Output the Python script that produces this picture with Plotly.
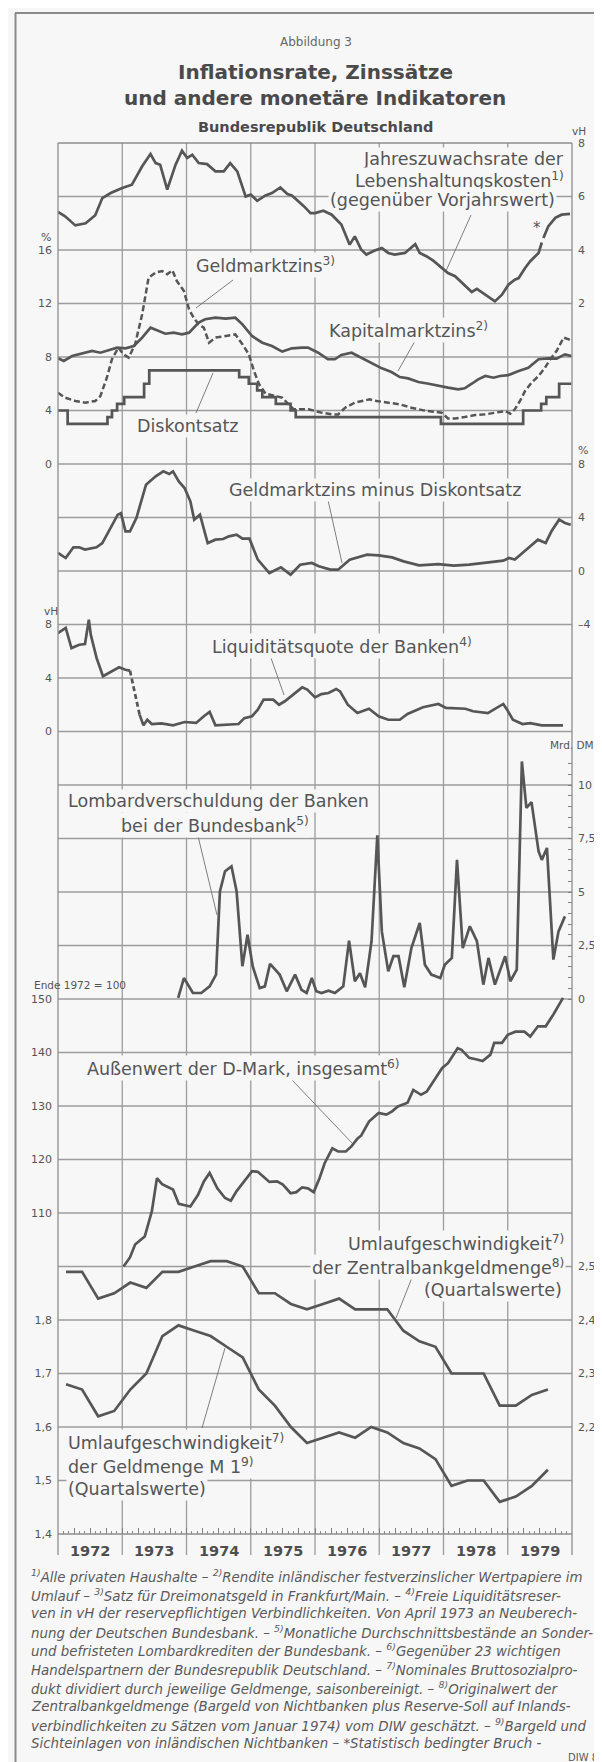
import plotly.graph_objects as go

# ---------------- data ----------------
# Jahreszuwachsrate der Lebenshaltungskosten (vH) - before / after the statistical break (*)
infl_a = [(1972.00,5.42),(1972.11,5.26),(1972.27,4.92),(1972.43,5.00),(1972.58,5.30),(1972.69,5.94),
          (1972.82,6.13),(1973.00,6.32),(1973.15,6.44),(1973.31,7.13),(1973.44,7.59),(1973.52,7.25),
          (1973.59,7.19),(1973.70,6.26),(1973.83,7.19),(1973.93,7.71),(1974.01,7.44),(1974.09,7.56),
          (1974.19,7.25),(1974.32,7.21),(1974.45,6.94),(1974.58,6.94),(1974.68,7.25),(1974.79,6.94),
          (1974.92,6.00),(1975.00,6.07),(1975.10,5.84),(1975.23,6.04),(1975.33,6.13),(1975.46,6.34),
          (1975.57,6.09),(1975.64,6.04),(1975.83,5.63),(1975.93,5.38),(1976.00,5.38),(1976.13,5.47),
          (1976.26,5.32),(1976.41,4.95),(1976.54,4.20),(1976.62,4.51),(1976.72,4.01),(1976.80,3.83),
          (1976.93,3.98),(1977.04,4.07),(1977.14,3.89),(1977.24,3.83),(1977.40,3.89),(1977.56,4.22),
          (1977.63,3.89),(1977.74,3.76),(1977.84,3.60),(1977.97,3.33),(1978.07,3.14),(1978.18,3.02),
          (1978.33,2.70),(1978.44,2.43),(1978.52,2.55),(1978.62,2.39),(1978.72,2.23),(1978.80,2.08),
          (1978.91,2.33),(1979.01,2.70),(1979.11,2.89),(1979.17,2.95),(1979.27,3.33),(1979.35,3.58),
          (1979.48,3.89),(1979.53,4.28)]
infl_b = [(1979.555,4.45),(1979.63,4.88),(1979.74,5.20),(1979.84,5.32),(1979.97,5.35)]

# Kapitalmarktzins (%)
kapital = [(1972.00,7.90),(1972.09,7.70),(1972.22,8.07),(1972.37,8.25),(1972.53,8.45),(1972.66,8.32),
           (1972.79,8.50),(1972.92,8.70),(1973.05,8.65),(1973.18,8.82),(1973.31,9.45),(1973.44,10.19),
           (1973.54,10.00),(1973.67,9.74),(1973.80,9.82),(1973.93,9.69),(1974.04,9.82),(1974.19,10.57),
           (1974.29,10.82),(1974.45,10.94),(1974.61,10.87),(1974.76,10.94),(1974.87,10.44),(1975.02,9.57),
           (1975.18,9.07),(1975.33,8.82),(1975.49,8.40),(1975.64,8.65),(1975.80,8.70),(1975.89,8.70),
           (1976.05,8.32),(1976.20,7.83),(1976.31,7.83),(1976.41,8.15),(1976.57,8.32),(1976.72,7.95),
           (1976.88,7.50),(1977.04,7.15),(1977.19,6.88),(1977.32,6.50),(1977.45,6.40),(1977.61,6.13),
           (1977.77,6.00),(1977.92,5.83),(1978.07,5.71),(1978.23,5.58),(1978.33,5.66),(1978.44,6.00),
           (1978.54,6.33),(1978.65,6.58),(1978.78,6.45),(1978.88,6.58),(1979.01,6.65),(1979.17,6.95),
           (1979.32,7.20),(1979.48,7.83),(1979.63,7.90),(1979.76,7.88),(1979.89,8.20),(1979.99,8.07)]

# Geldmarktzins (%)
geldmarkt = [(1972.00,5.33),(1972.11,4.96),(1972.27,4.71),(1972.43,4.59),(1972.58,4.71),(1972.66,5.08),
             (1972.76,6.45),(1972.84,7.83),(1972.94,8.70),(1973.02,8.20),(1973.10,7.95),(1973.20,8.95),
             (1973.31,11.19),(1973.41,13.93),(1973.52,14.31),(1973.62,14.43),(1973.70,14.18),(1973.78,14.48),
             (1973.85,13.68),(1973.96,12.93),(1974.04,11.56),(1974.11,10.94),(1974.19,10.44),(1974.27,10.19),
             (1974.35,9.07),(1974.45,9.45),(1974.61,9.57),(1974.76,9.69),(1974.87,8.95),(1974.97,8.20),
             (1975.05,6.95),(1975.13,5.96),(1975.23,5.26),(1975.33,5.16),(1975.49,4.96),(1975.59,4.46),
             (1975.67,4.09),(1975.77,4.09),(1975.90,4.09),(1976.10,3.84),(1976.26,3.71),(1976.36,3.71),
             (1976.47,4.21),(1976.62,4.59),(1976.75,4.71),(1976.85,4.83),(1976.96,4.71),(1977.14,4.59),
             (1977.32,4.46),(1977.50,4.21),(1977.69,4.01),(1977.84,3.91),(1977.97,3.84),(1978.07,3.41),
             (1978.18,3.41),(1978.33,3.51),(1978.49,3.66),(1978.65,3.71),(1978.80,3.84),(1978.96,3.96),
             (1979.04,3.76),(1979.11,4.09),(1979.19,4.71),(1979.27,5.46),(1979.37,6.08),(1979.48,6.58),
             (1979.58,7.20),(1979.66,7.83),(1979.76,8.45),(1979.87,9.45),(1979.95,9.32),(1979.99,9.20)]

# Diskontsatz (%) - step changes
diskont = [(1972.00,4.0),(1972.15,3.0),(1972.77,3.5),(1972.84,4.0),(1972.92,4.5),(1973.03,5.0),
           (1973.34,6.0),(1973.42,7.0),(1974.82,6.5),(1974.97,6.0),(1975.10,5.5),(1975.18,5.0),
           (1975.39,4.5),(1975.62,4.0),(1975.70,3.5),(1977.96,3.0),(1979.24,4.0),(1979.52,4.5),
           (1979.60,5.0),(1979.80,6.0),(1979.99,6.0)]

# Geldmarktzins minus Diskontsatz (%-Punkte)
spread = [(1972.00,1.35),(1972.12,0.97),(1972.24,1.77),(1972.33,1.77),(1972.42,1.60),(1972.60,1.77),
          (1972.69,2.09),(1972.81,3.21),(1972.93,4.21),(1972.98,4.33),(1973.05,2.97),(1973.12,2.97),
          (1973.22,3.96),(1973.37,6.45),(1973.52,7.08),(1973.64,7.45),(1973.73,7.25),(1973.79,7.45),
          (1973.88,6.70),(1973.97,6.20),(1974.06,5.21),(1974.12,3.84),(1974.21,4.21),(1974.33,2.09),
          (1974.45,2.34),(1974.57,2.39),(1974.66,2.59),(1974.78,2.72),(1974.87,2.42),(1974.98,2.42),
          (1975.11,0.85),(1975.29,-0.15),(1975.47,0.27),(1975.62,-0.27),(1975.77,0.47),(1975.95,0.60),
          (1976.06,0.35),(1976.24,0.10),(1976.36,0.10),(1976.54,0.85),(1976.81,1.22),(1976.99,1.17),
          (1977.20,1.02),(1977.38,0.72),(1977.62,0.42),(1977.92,0.52),(1978.16,0.40),(1978.40,0.47),
          (1978.69,0.65),(1978.93,0.77),(1979.02,0.97),(1979.11,0.85),(1979.26,1.47),(1979.35,1.85),
          (1979.47,2.34),(1979.59,2.09),(1979.68,2.97),(1979.80,3.84),(1979.89,3.59),(1979.98,3.46)]

# Liquiditaetsquote der Banken (vH): old basis, dashed transition, new basis
liq_old = [(1972.00,7.36),(1972.12,7.74),(1972.21,6.24),(1972.33,6.49),(1972.42,6.54),(1972.48,8.36),
           (1972.51,7.24),(1972.60,5.50),(1972.70,4.13),(1972.84,4.50),(1972.95,4.80),(1973.05,4.62),
           (1973.12,4.55)]
liq_break = [(1973.12,4.55),(1973.20,2.75),(1973.27,1.26)]
liq_new = [(1973.27,1.26),(1973.33,0.46),(1973.39,0.88),(1973.46,0.56),(1973.61,0.60),(1973.79,0.46),
           (1973.97,0.71),(1974.15,0.64),(1974.27,1.14),(1974.36,1.46),(1974.45,0.46),(1974.63,0.51),
           (1974.81,0.56),(1974.90,1.00),(1975.02,1.14),(1975.11,1.63),(1975.20,2.38),(1975.35,2.38),
           (1975.44,2.00),(1975.53,2.26),(1975.65,2.75),(1975.80,3.30),(1975.88,3.13),(1976.00,2.55),
           (1976.10,2.80),(1976.21,2.88),(1976.33,3.18),(1976.39,3.00),(1976.51,2.00),(1976.66,1.38),
           (1976.84,1.70),(1976.99,1.13),(1977.14,0.88),(1977.32,0.88),(1977.44,1.31),(1977.56,1.56),
           (1977.68,1.81),(1977.92,2.06),(1978.04,1.76),(1978.34,1.70),(1978.46,1.51),(1978.69,1.38),
           (1978.84,1.81),(1978.93,2.06),(1978.99,1.63),(1979.08,0.88),(1979.23,0.56),(1979.35,0.63),
           (1979.53,0.46),(1979.86,0.46)]

# Lombardverschuldung der Banken (Mrd. DM)
lombard = [(1973.87,0.05),(1973.96,0.98),(1974.10,0.28),(1974.23,0.28),(1974.36,0.59),(1974.46,1.14),
           (1974.52,5.03),(1974.60,5.97),(1974.70,6.20),(1974.78,5.03),(1974.87,1.53),(1974.95,3.00),
           (1975.03,1.53),(1975.14,0.51),(1975.22,0.59),(1975.30,1.64),(1975.45,1.14),(1975.56,0.36),
           (1975.69,1.14),(1975.79,0.43),(1975.87,0.28),(1975.95,0.98),(1976.02,0.36),(1976.10,0.28),
           (1976.21,0.39),(1976.31,0.28),(1976.44,0.59),(1976.53,2.73),(1976.62,0.83),(1976.70,1.20),
           (1976.78,0.55),(1976.88,2.70),(1976.97,7.65),(1977.04,3.16),(1977.14,1.29),(1977.22,2.00),
           (1977.30,2.00),(1977.39,0.55),(1977.50,2.38),(1977.63,3.55),(1977.71,1.60),(1977.81,1.14),
           (1977.95,0.98),(1978.02,1.60),(1978.13,1.92),(1978.21,6.50),(1978.30,2.38),(1978.41,3.40),
           (1978.52,2.70),(1978.62,0.67),(1978.70,1.92),(1978.80,0.67),(1978.96,2.00),(1979.04,0.83),
           (1979.14,1.37),(1979.22,11.10),(1979.29,8.93),(1979.37,9.20),(1979.48,6.90),(1979.53,6.50),
           (1979.61,7.06),(1979.71,1.84),(1979.79,3.16),(1979.89,3.86)]

# Aussenwert der D-Mark (Ende 1972 = 100)
aussenwert = [(1973.02,100.0),(1973.12,101.7),(1973.20,104.1),(1973.28,105.0),(1973.35,105.6),(1973.46,110.3),
              (1973.54,116.5),(1973.62,115.4),(1973.73,114.8),(1973.79,114.4),(1973.88,111.7),(1974.00,111.4),
              (1974.06,111.2),(1974.18,113.4),(1974.27,115.9),(1974.36,117.5),(1974.48,114.6),(1974.60,112.8),
              (1974.69,112.3),(1974.78,114.1),(1974.90,115.9),(1975.02,117.8),(1975.11,117.7),(1975.20,116.7),
              (1975.29,115.8),(1975.41,115.9),(1975.50,115.3),(1975.62,113.7),(1975.71,113.9),(1975.80,114.8),
              (1975.89,114.6),(1975.98,113.9),(1976.07,116.5),(1976.15,119.3),(1976.27,122.1),(1976.36,121.5),
              (1976.48,121.5),(1976.57,122.5),(1976.66,123.9),(1976.72,124.5),(1976.84,127.1),(1976.99,128.7),
              (1977.11,128.4),(1977.20,129.0),(1977.29,129.9),(1977.44,130.6),(1977.53,133.0),(1977.65,132.1),
              (1977.74,132.7),(1977.86,134.9),(1977.98,137.1),(1978.07,138.0),(1978.22,140.8),(1978.28,140.5),
              (1978.40,139.0),(1978.52,138.7),(1978.61,138.4),(1978.73,139.6),(1978.79,141.8),(1978.91,141.8),
              (1979.00,143.3),(1979.12,143.9),(1979.26,143.9),(1979.35,143.0),(1979.47,144.9),(1979.59,144.9),
              (1979.71,147.1),(1979.86,150.2)]

# Umlaufgeschwindigkeit, quarterly values 1972 Q1 ... 1979 Q3
quarters = [f"{y}Q{q}" for y in range(1972, 1980) for q in range(1, 5)][:31]
v_zbg = [2.49,2.49,2.44,2.45,2.47,2.46,2.49,2.49,2.50,2.51,2.51,2.50,2.45,2.45,2.43,2.42,
         2.43,2.44,2.42,2.42,2.42,2.38,2.36,2.35,2.30,2.30,2.30,2.24,2.24,2.26,2.27]
v_m1 = [1.68,1.67,1.62,1.63,1.67,1.70,1.77,1.79,1.78,1.77,1.75,1.73,1.67,1.64,1.60,1.57,
        1.58,1.59,1.58,1.60,1.59,1.57,1.56,1.54,1.49,1.50,1.50,1.46,1.47,1.49,1.52]

years = list(range(1972, 1980))

# ---------------- layout constants ----------------
W, H = 602, 1762
ML, MR, MT, MB = 50, 38, 135, 236
PW, PH = W - ML - MR, H - MT - MB
NK = 26                       # number of grid intervals from top to bottom
BG = "#f7f7f7"
LINE = "#565656"
GRID = "#9c9c9c"
BORDER = "#8e8e8e"
TXT = "#555555"
FONT = "DejaVu Sans"


def xp(px):
    return (px - ML) / PW


def yp(py):
    return 1 - (py - MT) / PH


def axis_range(v0, k0, dv):
    return [v0 - (NK - k0) * dv, v0 + k0 * dv]


def qx(label):
    y, q = label.split("Q")
    return int(y) + (int(q) - 1) * 0.25 + 0.125


fig = go.Figure()

# chart grid (one horizontal line per grid step of the base axis, one vertical line per year)
BASE_TOP, BASE_STEP = 24, 4          # base (interest) axis value at the top grid line, value per step
gx, gy = [], []
for k in range(1, NK):
    v = BASE_TOP - BASE_STEP * k
    gx += [1972, 1980, None]
    gy += [v, v, None]
for yr in range(1973, 1980):
    gx += [yr, yr, None]
    gy += [BASE_TOP, BASE_TOP - BASE_STEP * NK, None]
fig.add_trace(go.Scatter(x=gx, y=gy, mode="lines", line=dict(color=GRID, width=1.3),
                         hoverinfo="skip", showlegend=False, connectgaps=False))


def add_series(pairs, axis, dash=None, shape="linear", width=2.7):
    xs = [p[0] for p in pairs]
    ys = [p[1] for p in pairs]
    fig.add_trace(go.Scatter(x=xs, y=ys, yaxis=axis, mode="lines",
                             line=dict(color=LINE, width=width, dash=dash, shape=shape),
                             hoverinfo="skip", showlegend=False))


add_series(infl_a, "y2")
add_series(infl_b, "y2")
add_series(kapital, "y")
add_series(geldmarkt, "y", dash="6px,3px", width=2.5)
add_series(diskont, "y", shape="hv")
add_series(spread, "y3")
add_series(liq_old, "y4")
add_series(liq_break, "y4", dash="5px,3px")
add_series(liq_new, "y4")
add_series(lombard, "y5")
add_series(aussenwert, "y6")
qxs = [qx(q) for q in quarters]
fig.add_trace(go.Scatter(x=qxs, y=v_m1, yaxis="y7", mode="lines",
                         line=dict(color=LINE, width=2.7), hoverinfo="skip", showlegend=False))
fig.add_trace(go.Scatter(x=qxs, y=v_zbg, yaxis="y8", mode="lines",
                         line=dict(color=LINE, width=2.7), hoverinfo="skip", showlegend=False))

# ---------------- axes ----------------
tf = dict(family=FONT, size=11, color=TXT)


def yaxis(v0, k0, dv, side, vals, texts, overlay=True, **kw):
    d = dict(range=axis_range(v0, k0, dv), domain=[0, 1], side=side, anchor="x",
             showgrid=False, zeroline=False, showline=False, ticks="",
             tickmode="array", tickvals=vals, ticktext=texts, tickfont=tf,
             ticklabelstandoff=5, fixedrange=True)
    if overlay:
        d["overlaying"] = "y"
    d.update(kw)
    return d


lomb_minor = [i * 0.5 for i in range(23)]

fig.update_layout(
    yaxis=yaxis(16, 2, 4, "left", [0, 4, 8, 12, 16], ["0", "4", "8", "12", "16"], overlay=False),
    yaxis2=yaxis(8, 0, 2, "right", [2, 4, 6, 8], ["2", "4", "6", "8"]),
    yaxis3=yaxis(8, 6, 4, "right", [-4, 0, 4, 8], ["–4", "0", "4", "8"]),
    yaxis4=yaxis(8, 9, 4, "left", [0, 4, 8], ["0", "4", "8"]),
    yaxis5=yaxis(10, 12, 2.5, "right", [0, 2.5, 5, 7.5, 10], ["0", "2,5", "5", "7,5", "10"],
                 ticks="inside", ticklen=4, tickcolor="#808080", tickwidth=1,
                 minor=dict(tickmode="array", tickvals=lomb_minor, ticks="inside", ticklen=4,
                            tickcolor="#808080", tickwidth=1)),
    yaxis6=yaxis(150, 16, 10, "left", [110, 120, 130, 140, 150], ["110", "120", "130", "140", "150"]),
    yaxis7=yaxis(1.8, 22, 0.1, "left", [1.4, 1.5, 1.6, 1.7, 1.8], ["1,4", "1,5", "1,6", "1,7", "1,8"]),
    yaxis8=yaxis(2.5, 21, 0.1, "right", [2.2, 2.3, 2.4, 2.5], ["2,2", "2,3", "2,4", "2,5"]),
    xaxis=dict(range=[1972, 1980], domain=[0, 1], showgrid=False, zeroline=False, showline=False,
               ticks="inside", ticklen=6, tickcolor="#808080", tickwidth=1,
               tickmode="array", tickvals=[1972 + 0.25 * i for i in range(33)],
               showticklabels=False, fixedrange=True,
               minor=dict(ticks="inside", ticklen=3.5, tickcolor="#8a8a8a", tickwidth=1,
                          dtick=1 / 12, tick0=1972, showgrid=False)),
)

# ---------------- decorative shapes ----------------
shapes = []
for yr in range(1972, 1981):
    px = ML + (yr - 1972) * PW / 8
    edge = yr in (1972, 1980)
    shapes.append(dict(type="line", xref="paper", yref="paper", x0=xp(px), x1=xp(px),
                       y0=1 if edge else 0, y1=yp(1547),
                       line=dict(color=BORDER if edge else GRID, width=1.3)))
for py in (MT, MT + PH):
    shapes.append(dict(type="line", xref="paper", yref="paper", x0=0, x1=1, y0=yp(py), y1=yp(py),
                       line=dict(color=BORDER, width=1.3)))

leaders = [(463, 207, 438, 263), (225, 272, 188, 300), (407, 333, 390, 363), (188, 405, 205, 365),
           (320, 492, 334, 555), (263, 650, 276, 687), (190, 828, 209, 907), (284, 1072, 344, 1135),
           (405, 1267, 388, 1310), (194, 1420, 217, 1340)]
for x0, y0, x1, y1 in leaders:
    shapes.append(dict(type="line", xref="paper", yref="paper", x0=xp(x0), y0=yp(y0),
                       x1=xp(x1), y1=yp(y1), layer="above", line=dict(color="#707070", width=0.9)))

# outer frame (top and left edges)
shapes.append(dict(type="line", xref="paper", yref="paper", x0=xp(7), x1=xp(610), y0=yp(5), y1=yp(5),
                   line=dict(color="#8a8a8a", width=2)))
shapes.append(dict(type="line", xref="paper", yref="paper", x0=xp(7.5), x1=xp(7.5), y0=yp(5), y1=yp(1770),
                   line=dict(color="#8a8a8a", width=2)))
fig.update_layout(shapes=shapes)

# ---------------- text ----------------
ann = []


def text(t, x, y, size=17.5, anchor="left", color=TXT, family=FONT, bg=None):
    a = dict(text=t, x=xp(x), y=yp(y), xref="paper", yref="paper", showarrow=False,
             xanchor=anchor, yanchor="middle", font=dict(family=family, size=size, color=color))
    if bg:
        a.update(bgcolor=bg, borderpad=1)
    ann.append(a)


def label(t, x, y, anchor="left"):
    text(t, x, y, anchor=anchor, bg=BG)


text("Abbildung 3", 308, 34, size=12, anchor="center", color="#666666")
text("<b>Inflationsrate, Zinssätze</b>", 307, 64, size=20, anchor="center", color="#4a4a4a")
text("<b>und andere monetäre Indikatoren</b>", 307, 90, size=20, anchor="center", color="#4a4a4a")
text("<b>Bundesrepublik Deutschland</b>", 307, 119, size=14.5, anchor="center", color="#4a4a4a")

# unit labels
text("vH", 571, 123, size=10.5, anchor="center")
text("%", 38, 230, size=11, anchor="center")
text("%", 575, 443, size=11, anchor="center")
text("vH", 43, 603, size=10.5, anchor="center")
text("Mrd. DM", 564, 737, size=10.5, anchor="center")
text("Ende 1972 = 100", 24, 977, size=10.5, anchor="left")

# series labels (their background interrupts the grid, as in the original)
label("Jahreszuwachsrate der", 558, 151, anchor="right")
label("Lebenshaltungskosten<sup>1)</sup>", 558, 172, anchor="right")
label("(gegenüber Vorjahrswert)", 549, 192, anchor="right")
text("*", 529, 220, size=15, anchor="center")
label("Geldmarktzins<sup>3)</sup>", 186, 257)
label("Kapitalmarktzins<sup>2)</sup>", 319, 322)
label("Diskontsatz", 127, 418)
label("Geldmarktzins minus Diskontsatz", 219, 482)
label("Liquiditätsquote der Banken<sup>4)</sup>", 202, 638)
label("Lombardverschuldung der Banken", 58, 793)
label("bei der Bundesbank<sup>5)</sup>", 111, 817)
label("Außenwert der D-Mark, insgesamt<sup>6)</sup>", 77, 1060)
label("Umlaufgeschwindigkeit<sup>7)</sup>", 558, 1235, anchor="right")
label("der Zentralbankgeldmenge<sup>8)</sup>", 558, 1259, anchor="right")
label("(Quartalswerte)", 556, 1282, anchor="right")
label("Umlaufgeschwindigkeit<sup>7)</sup>", 58, 1434)
label("der Geldmenge M 1<sup>9)</sup>", 58, 1458)
label("(Quartalswerte)", 58, 1481)

# year labels
for yr in years:
    ann.append(dict(text=f"<b>{yr}</b>", x=yr + 0.5, y=yp(1543), xref="x", yref="paper",
                    showarrow=False, xanchor="center", yanchor="middle",
                    font=dict(family=FONT, size=14.5, color="#4e4e4e")))

footnotes = [
    "<sup>1)</sup>Alle privaten Haushalte – <sup>2)</sup>Rendite inländischer festverzinslicher Wertpapiere im",
    "Umlauf – <sup>3)</sup>Satz für Dreimonatsgeld in Frankfurt/Main. – <sup>4)</sup>Freie Liquiditätsreser-",
    "ven in vH der reservepflichtigen Verbindlichkeiten. Von April 1973 an Neuberech-",
    "nung der Deutschen Bundesbank. – <sup>5)</sup>Monatliche Durchschnittsbestände an Sonder-",
    "und befristeten Lombardkrediten der Bundesbank. – <sup>6)</sup>Gegenüber 23 wichtigen",
    "Handelspartnern der Bundesrepublik Deutschland. – <sup>7)</sup>Nominales Bruttosozialpro-",
    "dukt dividiert durch jeweilige Geldmenge, saisonbereinigt. – <sup>8)</sup>Originalwert der",
    "Zentralbankgeldmenge (Bargeld von Nichtbanken plus Reserve-Soll auf Inlands-",
    "verbindlichkeiten zu Sätzen vom Januar 1974) vom DIW geschätzt. – <sup>9)</sup>Bargeld und",
    "Sichteinlagen von inländischen Nichtbanken – *Statistisch bedingter Bruch -",
]
for i, line in enumerate(footnotes):
    text(f"<i>{line}</i>", 21, 1568 + i * 18.6, size=13.4, anchor="left", color="#5a5a5a")
text("DIW 80", 598, 1749, size=10, anchor="right", color="#5a5a5a")

fig.update_layout(annotations=ann, width=W, height=H,
                  margin=dict(l=ML, r=MR, t=MT, b=MB, pad=0),
                  paper_bgcolor=BG, plot_bgcolor=BG, showlegend=False,
                  font=dict(family=FONT, color=TXT))

fig.write_html("out.html")
